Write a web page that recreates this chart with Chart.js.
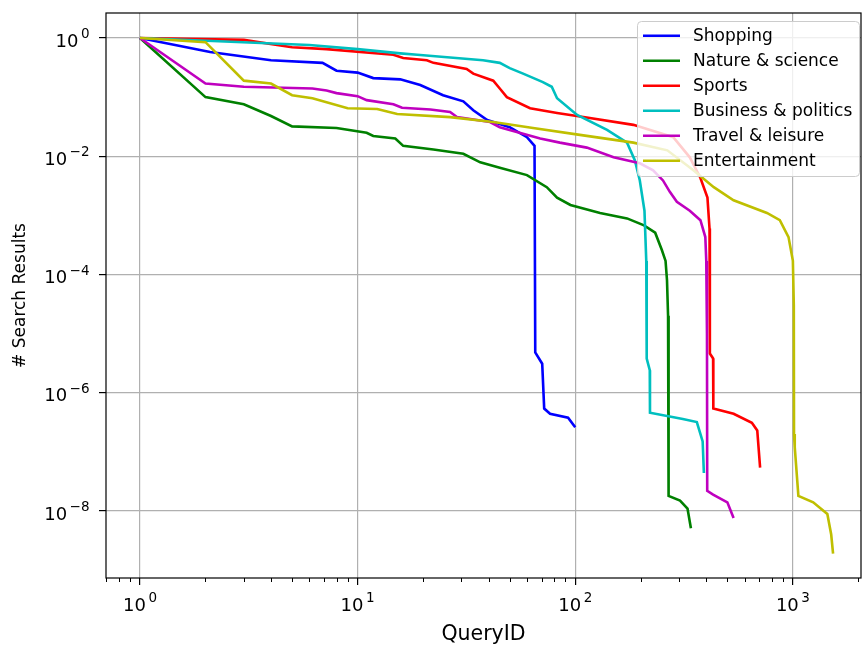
<!DOCTYPE html>
<html>
<head>
<meta charset="utf-8">
<script src="https://cdn.jsdelivr.net/npm/chart.js@4.4.0/dist/chart.umd.min.js"></script>
<style>
  body { margin: 0; background: #fff; }
  canvas { display: block; }
</style>
</head>
<body>
<canvas id="chart" width="862" height="649"></canvas>
<script>
// series names + colours (matplotlib b g r c m y)
const names = ['Shopping', 'Nature & science', 'Sports', 'Business & politics', 'Travel & leisure', 'Entertainment'];
const colors = ['#0000ff', '#008000', '#ff0000', '#00bfbf', '#bf00bf', '#bfbf00'];

const shopX = [1, 2.1, 4, 6.9, 8, 10, 11.8, 15.7, 19.4, 24.7, 30.6, 34, 39.4, 50, 60, 65, 65.5, 70.5, 72, 76.6, 92.7, 100];
const shopY = [1, 0.58, 0.42, 0.38, 0.28, 0.26, 0.21, 0.2, 0.16, 0.108, 0.085, 0.06, 0.041, 0.031, 0.021, 0.015, 4.8e-6, 3.1e-6, 5.4e-7, 4.4e-7, 3.8e-7, 2.6e-7];

const natureX = [1, 2, 3, 4, 5, 8, 11, 11.8, 14.9, 16.2, 22.3, 30.6, 36.6, 45, 60, 74, 82.5, 95, 130, 173, 207, 233, 250, 260, 264, 267, 268.5, 303, 328, 340];
const natureY = [1, 0.1, 0.076, 0.048, 0.032, 0.030, 0.025, 0.022, 0.020, 0.015, 0.013, 0.011, 0.0079, 0.0064, 0.0048, 0.003, 0.002, 0.0015, 0.0011, 0.00089, 0.00068, 0.00051, 0.00026, 0.00017, 8e-5, 2e-5, 1.8e-8, 1.5e-8, 1.1e-8, 5.1e-9];

const sportsX = [1, 3, 5, 7.2, 14.6, 16.2, 20.8, 22.3, 31.7, 34, 42, 45, 48.5, 62, 82.5, 109, 185, 282, 336, 376, 405, 414, 415, 416, 430, 431, 534, 648, 686, 707];
const sportsY = [1, 0.93, 0.7, 0.65, 0.52, 0.46, 0.42, 0.38, 0.3, 0.25, 0.19, 0.14, 0.1, 0.065, 0.054, 0.046, 0.034, 0.021, 0.0096, 0.0043, 0.002, 0.0006, 1.7e-4, 4.6e-6, 3.8e-6, 5.4e-7, 4.4e-7, 3.1e-7, 2.3e-7, 5.4e-8];

const businessX = [1, 6, 10, 15.7, 18.8, 37.7, 45, 50, 57.6, 71, 78, 82.5, 102, 140, 173, 188, 198, 208, 212, 213, 220, 220.5, 312, 362, 385, 390];
const businessY = [1, 0.76, 0.65, 0.55, 0.52, 0.42, 0.38, 0.31, 0.25, 0.18, 0.15, 0.096, 0.05, 0.028, 0.017, 0.0085, 0.0039, 0.0012, 1.7e-4, 3.8e-6, 2.4e-6, 4.6e-7, 3.6e-7, 3.2e-7, 1.5e-7, 4.4e-8];

const travelX = [1, 2, 3, 6.2, 7.2, 8, 10, 11, 14.6, 16, 21.6, 26.6, 28.6, 40.6, 45, 69, 85, 113, 150, 198, 228, 253, 272, 293, 336, 376, 396, 400, 403, 404, 430, 500, 534];
const travelY = [1, 0.17, 0.15, 0.14, 0.13, 0.117, 0.104, 0.089, 0.076, 0.066, 0.062, 0.056, 0.046, 0.038, 0.031, 0.020, 0.017, 0.014, 0.0096, 0.0076, 0.0058, 0.0039, 0.0025, 0.0017, 0.0012, 0.00083, 0.00043, 0.00017, 1e-5, 2.2e-8, 1.9e-8, 1.4e-8, 7.6e-9];

const enterX = [1, 2, 3, 4, 5, 6.2, 9, 12.3, 15.2, 26.6, 42, 64, 105, 185, 265, 349, 433, 534, 760, 871, 955, 1000, 1010, 1012, 1020, 1060, 1240, 1440, 1500, 1530];
const enterY = [1, 0.85, 0.19, 0.17, 0.108, 0.096, 0.065, 0.063, 0.052, 0.046, 0.038, 0.030, 0.023, 0.017, 0.0126, 0.0058, 0.003, 0.0018, 0.0011, 0.00083, 0.00043, 0.00017, 3e-5, 2e-7, 1.2e-7, 1.8e-8, 1.4e-8, 8.9e-9, 4e-9, 1.9e-9];

const xTicks = [1, 10, 100, 1000];
const yTicks = [1e-8, 1e-6, 1e-4, 1e-2, 1];

const seriesX = [shopX, natureX, sportsX, businessX, travelX, enterX];
const seriesY = [shopY, natureY, sportsY, businessY, travelY, enterY];

const FONT = "'DejaVu Sans', sans-serif";

const datasets = names.map((n, i) => ({
  label: n,
  data: seriesX[i].map((x, j) => ({ x: x, y: seriesY[i][j] })),
  borderColor: colors[i],
  borderWidth: 2.6,
  pointRadius: 0,
  tension: 0,
  fill: false,
  order: names.length - i
}));

// 10^n label, base and raised exponent; anchor: 'center' (x axis) or 'right' (y axis)
function drawPow(ctx, v, x, baseline, anchor) {
  const e = String(Math.round(Math.log10(v))).replace('-', '\u2212');
  ctx.font = '18px ' + FONT;
  const wb = ctx.measureText('10').width;
  ctx.font = '13.5px ' + FONT;
  const we = ctx.measureText(e).width;
  const gap = 2.5;
  const total = wb + gap + we;
  const x0 = anchor === 'center' ? x - total / 2 : x - total;
  ctx.textAlign = 'left';
  ctx.textBaseline = 'alphabetic';
  ctx.font = '18px ' + FONT;
  ctx.fillText('10', x0, baseline);
  ctx.font = '13.5px ' + FONT;
  ctx.fillText(e, x0 + wb + gap, baseline - 8.5);
}

// legend inside the axes + frame + minor ticks + tick labels
const decor = {
  id: 'decor',
  afterDatasetsDraw(chart) {
    const ctx = chart.ctx;
    const a = chart.chartArea;
    ctx.save();
    // frame
    ctx.strokeStyle = '#000';
    ctx.lineWidth = 1.2;
    ctx.strokeRect(a.left, a.top, a.right - a.left, a.bottom - a.top);
    // legend box
    const bx = 637.5, by = 21.5, bw = 222, bh = 155, r = 4;
    ctx.beginPath();
    ctx.moveTo(bx + r, by);
    ctx.arcTo(bx + bw, by, bx + bw, by + bh, r);
    ctx.arcTo(bx + bw, by + bh, bx, by + bh, r);
    ctx.arcTo(bx, by + bh, bx, by, r);
    ctx.arcTo(bx, by, bx + bw, by, r);
    ctx.closePath();
    ctx.fillStyle = 'rgba(255,255,255,0.8)';
    ctx.fill();
    ctx.strokeStyle = '#cccccc';
    ctx.lineWidth = 1;
    ctx.stroke();
    ctx.font = '17px ' + FONT;
    ctx.textBaseline = 'middle';
    ctx.fillStyle = '#000';
    chart.data.datasets.forEach((ds, i) => {
      const y = 35.7 + i * 25;
      ctx.strokeStyle = ds.borderColor;
      ctx.lineWidth = 2.6;
      ctx.beginPath();
      ctx.moveTo(643, y);
      ctx.lineTo(680, y);
      ctx.stroke();
      ctx.fillText(ds.label, 693, y + 1);
    });
    // minor ticks on x
    const xs = chart.scales.x;
    const ys = chart.scales.y;
    ctx.strokeStyle = '#000';
    ctx.lineWidth = 1;
    for (let d = -1; d <= 3; d++) {
      for (let m = 2; m <= 9; m++) {
        const v = m * Math.pow(10, d);
        if (v < xs.min || v > xs.max) continue;
        const px = Math.round(xs.getPixelForValue(v)) + 0.5;
        ctx.beginPath();
        ctx.moveTo(px, a.bottom);
        ctx.lineTo(px, a.bottom + 4);
        ctx.stroke();
      }
    }
    // tick labels
    ctx.fillStyle = '#000';
    xs.ticks.forEach(t => drawPow(ctx, t.value, xs.getPixelForValue(t.value), a.bottom + 32.7, 'center'));
    ys.ticks.forEach(t => drawPow(ctx, t.value, a.left - 16.5, ys.getPixelForValue(t.value) + 8.7, 'right'));
    ctx.restore();
  }
};

new Chart(document.getElementById('chart'), {
  type: 'line',
  data: { datasets: datasets },
  options: {
    responsive: false,
    animation: false,
    layout: { padding: { top: 13, right: 1, left: 0, bottom: 0 } },
    plugins: { legend: { display: false }, tooltip: { enabled: false } },
    scales: {
      x: {
        type: 'logarithmic',
        bounds: 'data',
        min: 0.698,
        max: 2056,
        afterBuildTicks: s => { s.ticks = xTicks.map(v => ({ value: v })); },
        afterFit: s => { s.height = 71; s.paddingLeft = 0; s.paddingRight = 0; },
        ticks: { display: false, autoSkip: false },
        grid: { color: '#b0b0b0', lineWidth: 1.2, tickColor: '#000', tickLength: 7, tickWidth: 1.2 },
        border: { display: false },
        title: { display: true, text: 'QueryID', font: { family: FONT, size: 20.5 }, color: '#000', padding: { top: 0, bottom: 2 } }
      },
      y: {
        type: 'logarithmic',
        bounds: 'data',
        min: 7.36e-10,
        max: 2.65,
        afterBuildTicks: s => { s.ticks = yTicks.map(v => ({ value: v })); },
        afterFit: s => { s.width = 106; s.paddingTop = 0; s.paddingBottom = 0; },
        ticks: { display: false, autoSkip: false },
        grid: { color: '#b0b0b0', lineWidth: 1.2, tickColor: '#000', tickLength: 7, tickWidth: 1.2 },
        border: { display: false },
        title: { display: true, text: '# Search Results', font: { family: FONT, size: 17 }, color: '#000', padding: { top: 10, bottom: 0 } }
      }
    }
  },
  plugins: [decor]
});
</script>
</body>
</html>
